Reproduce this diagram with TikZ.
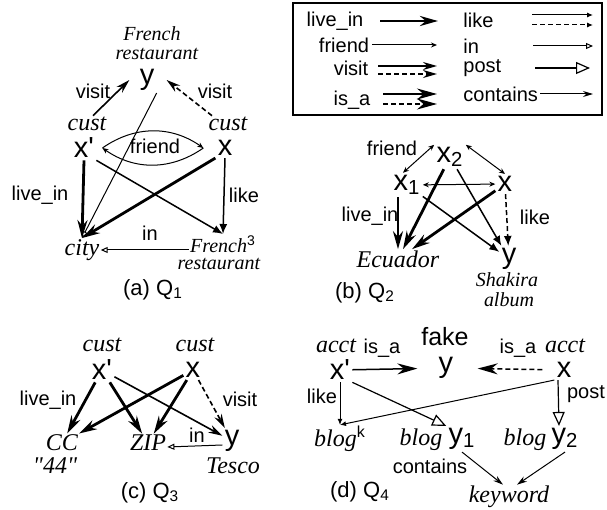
\documentclass[tikz,border=0pt]{standalone}
\usepackage{fontspec}
\setmainfont{Liberation Serif}
\setsansfont{Liberation Sans}
\usetikzlibrary{arrows.meta}

\begin{document}
\begin{tikzpicture}[x=0.5pt, y=0.5pt,
  var/.style={font=\sffamily\fontsize{14.5}{14}\selectfont, inner sep=1pt},
  typ/.style={font=\itshape\fontsize{12}{12}\selectfont, inner sep=0.5pt},
  typs/.style={font=\itshape\fontsize{10}{10}\selectfont, inner sep=0.5pt},
  lbl/.style={font=\sffamily\fontsize{10}{10}\selectfont, inner sep=0.5pt},
  captxt/.style={font=\sffamily\fontsize{11}{11}\selectfont},
  livein/.style={-{Stealth[length=9pt, width=5pt]}, line width=1.4pt},
  friendarr/.style={-{Stealth[length=3pt, width=2.5pt]}, line width=0.5pt},
  friendtwo/.style={{Stealth[length=3pt, width=2.5pt]}-{Stealth[length=3pt, width=2.5pt]}, line width=0.5pt},
  visitarr/.style={-{Stealth[length=7pt, width=4pt]}, line width=0.8pt},
  isaarr/.style={-{Stealth[length=10pt, width=5.5pt]}, line width=0.75pt},
  likearr/.style={-{Latex[length=5pt, width=4pt]}, line width=0.75pt},
  likethin/.style={-{Latex[length=3pt, width=2.5pt]}, line width=0.5pt},
  inarr/.style={-{Triangle[open, length=3.5pt, width=3pt]}, line width=0.5pt},
  postarr/.style={-{Triangle[open, length=7pt, width=6pt]}, line width=0.6pt},
  containsarr/.style={-{Stealth[length=5pt, width=3pt]}, line width=0.5pt},
  dsh/.style={dash pattern=on 2.5pt off 1.5pt}
]
  \useasboundingbox (0,0) rectangle (607,510);

  % (a)
  \node[typs] (frA) at (152,476) {French};
  \node[typs] (rsA) at (157,456) {restaurant};
  \node[var] (yA) at (147,430) {y};
  \node[lbl] (vA1) at (93,419) {visit};
  \node[lbl] (vA2) at (215,419) {visit};
  \node[typ] (cA1) at (87,386) {cust};
  \node[typ] (cA2) at (228,386) {cust};
  \node[var] (xpA) at (84,362) {x\textquotesingle};
  \node[var] (xA) at (225,362) {x};
  \node[lbl] (fA) at (155,364) {friend};
  \node[lbl] (liA) at (40,315) {live\_in};
  \node[lbl] (lkA) at (244,315) {like};
  \node[typ] (cityA) at (82,260) {city};
  \node[typs] (frA3) at (223,266) {French\textsuperscript{\sffamily\upshape 3}};
  \node[typs] (rsA3) at (219,246) {restaurant};
  \node[lbl] (inA) at (150,277) {in};
  \node[captxt] (capA) at (153,220) {(a) Q\textsubscript{1}};

  \draw[visitarr] ([xshift=3pt]cA1.north) -- ([xshift=-4pt]yA.west);
  \draw[visitarr, dsh] ([xshift=-8pt]cA2.north) -- ([xshift=5pt]yA.east);
  \draw[friendarr] ([xshift=3pt]xpA.east) to[out=35, in=145] ([xshift=-6pt]xA.west);
  \draw[friendarr] ([xshift=-6pt]xA.west) to[out=-145, in=-35] ([xshift=3pt]xpA.east);
  \draw[livein] (xpA.south) -- (cityA.north);
  \draw[livein] (xA.south west) -- (cityA.north);
  \draw[inarr] (yA.south east) -- (cityA.north);
  \draw[likearr] (xA.south) -- (frA3.north);
  \draw[likearr] (xpA.south east) -- (frA3.north);
  \draw[inarr] (frA3.west |- cityA) -- (cityA);

  % legend
  \draw[line width=0.9pt] (293,395) rectangle (602,507);
  \node[lbl] (lgLive) at (335,489) {live\_in};
  \node[lbl] (lgFriend) at (344,465) {friend};
  \node[lbl] (lgVisit) at (351,442) {visit};
  \node[lbl] (lgIsa) at (352,410) {is\_a};
  \node[lbl, anchor=west] (lgLike) at (462,490) {like};
  \node[lbl, anchor=west] (lgIn) at (462,464) {in};
  \node[lbl, anchor=west] (lgPost) at (462,442) {post};
  \node[lbl, anchor=west] (lgCont) at (462,416) {contains};
  \coordinate (l1a) at (380,489); \coordinate (l1b) at (438,489);
  \coordinate (l2a) at (372,465); \coordinate (l2b) at (437,465);
  \coordinate (l3a) at (378,444); \coordinate (l3b) at (437,444);
  \coordinate (l4a) at (378,436); \coordinate (l4b) at (437,436);
  \coordinate (l5a) at (383,416); \coordinate (l5b) at (437,416);
  \coordinate (l6a) at (383,406); \coordinate (l6b) at (437,406);
  \coordinate (r1a) at (532,495); \coordinate (r1b) at (593,495);
  \coordinate (r2a) at (532,485); \coordinate (r2b) at (593,485);
  \coordinate (r3a) at (533,464); \coordinate (r3b) at (593,464);
  \coordinate (r4a) at (535,442); \coordinate (r4b) at (590,442);
  \coordinate (r5a) at (540,416); \coordinate (r5b) at (593,416);
  \draw[livein] (l1a) -- (l1b);
  \draw[friendarr] (l2a) -- (l2b);
  \draw[visitarr] (l3a) -- (l3b);
  \draw[visitarr, dsh] (l4a) -- (l4b);
  \draw[isaarr] (l5a) -- (l5b);
  \draw[isaarr, dsh] (l6a) -- (l6b);
  \draw[likethin] (r1a) -- (r1b);
  \draw[likethin, dsh] (r2a) -- (r2b);
  \draw[inarr] (r3a) -- (r3b);
  \draw[postarr] (r4a) -- (r4b);
  \draw[containsarr] (r5a) -- (r5b);

  % (b)
  \node[var] (x2B) at (450,353) {x\textsubscript{2}};
  \node[lbl] (fB) at (392,362) {friend};
  \node[var] (x1B) at (407,325) {x\textsubscript{1}};
  \node[var] (xB) at (505,326) {x};
  \node[lbl] (liB) at (370,294) {live\_in};
  \node[lbl] (lkB) at (535,293) {like};
  \node[typ] (ecB) at (398,251) {Ecuador};
  \node[var] (yB) at (509,251) {y};
  \node[typs] (shB1) at (507,230) {Shakira};
  \node[typs] (shB2) at (509,210) {album};
  \node[captxt] (capB) at (365,217) {(b) Q\textsubscript{2}};

  \draw[friendtwo] (x2B.north west) -- ([xshift=-2pt]x1B.north);
  \draw[friendtwo] (x2B.north east) -- (xB.north);
  \draw[friendtwo] (x1B) -- (xB);
  \draw[livein] (x1B.south -| ecB.north) -- (ecB.north);
  \draw[livein] (x2B) -- (ecB);
  \draw[livein] (xB) -- (ecB);
  \draw[likearr] (x2B) -- (yB);
  \draw[likearr] (x1B) -- (yB);
  \draw[likearr, dsh] (xB) -- (yB);

  % (c)
  \node[typ] (cC1) at (102,165) {cust};
  \node[typ] (cC2) at (195,165) {cust};
  \node[var] (xpC) at (102,140) {x\textquotesingle};
  \node[var] (xC) at (193,140) {x};
  \node[lbl] (liC) at (48,110) {live\_in};
  \node[lbl] (vC) at (240,111) {visit};
  \node[typ] (ccC) at (62,67) {CC};
  \node[typ] (q44C) at (55,44) {\textquotedbl 44\textquotedbl};
  \node[typ] (zipC) at (148,67) {ZIP};
  \node[var] (yC) at (232,69) {y};
  \node[typ] (tescoC) at (233,44) {Tesco};
  \node[lbl] (inC) at (197,75) {in};
  \node[captxt] (capC) at (150,17) {(c) Q\textsubscript{3}};

  \draw[livein] (xpC) -- (ccC);
  \draw[livein] (xpC) -- (zipC);
  \draw[visitarr] (xpC) -- (yC);
  \draw[livein] (xC) -- (ccC);
  \draw[livein] (xC) -- (zipC);
  \draw[visitarr, dsh] (xC) -- (yC);
  \draw[inarr] ([yshift=-2pt]yC.west) -- ([yshift=-2pt]zipC.east);

  % (d)
  \node[typ] (acD1) at (336,164) {acct};
  \node[lbl] (isD1) at (382,162) {is\_a};
  \node[var, font=\sffamily\fontsize{12.5}{12}\selectfont] (fkD) at (445,173) {fake};
  \node[lbl] (isD2) at (518,162) {is\_a};
  \node[typ] (acD2) at (565,164) {acct};
  \node[var] (xpD) at (340,140) {x\textquotesingle};
  \node[var] (yD) at (446,142) {y};
  \node[var] (xD) at (564,140) {x};
  \node[lbl] (lkD) at (322,114) {like};
  \node[lbl] (poD) at (586,116) {post};
  \node[typ] (bkD) at (340,71) {blog\textsuperscript{\sffamily\upshape k}};
  \node[typ] (bD1) at (421,70) {blog};
  \node[var] (y1D) at (462,71) {y\textsubscript{1}};
  \node[typ] (bD2) at (525,70) {blog};
  \node[var] (y2D) at (565,71) {y\textsubscript{2}};
  \node[lbl] (ctD) at (430,44) {contains};
  \node[typ] (kwD) at (509,13) {keyword};
  \node[captxt] (capD) at (360,18) {(d) Q\textsubscript{4}};

  \draw[isaarr, shorten >=9.5pt] (xpD) -- (yD);
  \draw[isaarr, dsh, shorten <=6pt, shorten >=11pt] (xD) -- (yD);
  \draw[likethin] (xpD) -- (bkD);
  \draw[likethin] (xD.south west) -- (bkD.north);
  \draw[postarr] (xpD.south east) -- (y1D.north west);
  \draw[postarr] ([xshift=-3pt]xD.south) -- ([xshift=-3pt]y2D.north);
  \draw[containsarr] (y1D.south) -- ([xshift=-3pt]kwD.north);
  \draw[containsarr] (y2D.south) -- ([xshift=4pt]kwD.north);
\end{tikzpicture}
\end{document}
